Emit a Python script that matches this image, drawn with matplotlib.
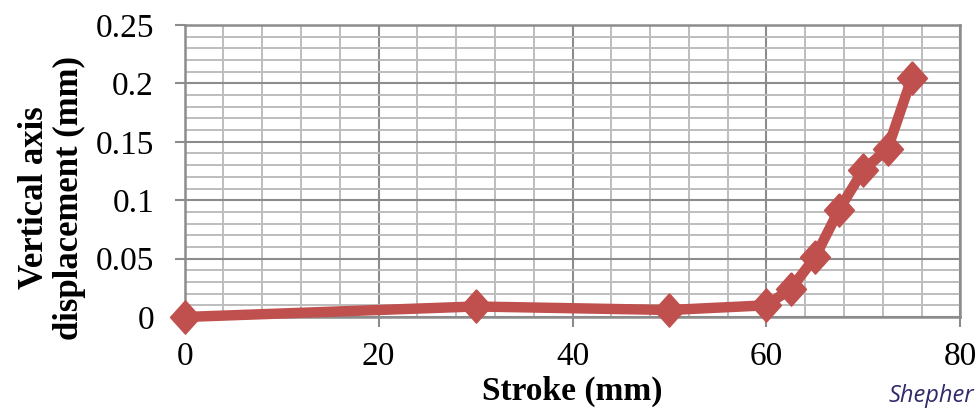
import matplotlib
matplotlib.use("Agg")
import matplotlib.pyplot as plt
from matplotlib.ticker import MultipleLocator

# Stroke (mm) vs vertical axis displacement (mm)
stroke = [0, 30, 50, 60, 62.5, 65, 67.5, 70, 72.5, 75]
displacement = [0.0, 0.009, 0.006, 0.010, 0.024, 0.051, 0.092, 0.126, 0.144, 0.205]

x_ticks = [0, 20, 40, 60, 80]
y_ticks = [0, 0.05, 0.1, 0.15, 0.2, 0.25]
y_tick_labels = ["0", "0.05", "0.1", "0.15", "0.2", "0.25"]

serif = "Liberation Serif"
line_color = "#C0504D"
major_grid = "#8C8C8C"
minor_grid = "#BDBDBD"

fig = plt.figure(figsize=(9.77, 4.12), dpi=100)
ax = fig.add_axes([0.189, 0.2306, 0.794, 0.7088])

ax.set_xlim(0, 80)
ax.set_ylim(0, 0.25)

# grid: majors every 20 / 0.05, minors every 4 / 0.01
ax.xaxis.set_minor_locator(MultipleLocator(4))
ax.yaxis.set_minor_locator(MultipleLocator(0.01))
ax.grid(which="minor", color=minor_grid, linewidth=1.4, zorder=0)
ax.grid(which="major", color=major_grid, linewidth=1.5, zorder=0.5)
ax.set_axisbelow(True)

ax.set_xticks(x_ticks)
ax.set_yticks(y_ticks)
ax.set_yticklabels(y_tick_labels)
ax.tick_params(which="minor", length=0)
ax.tick_params(axis="both", which="major", direction="out", length=7,
               width=1.5, color=major_grid, labelsize=24)
ax.tick_params(axis="y", pad=15)
ax.tick_params(axis="x", pad=11)
for lbl in ax.get_xticklabels() + ax.get_yticklabels():
    lbl.set_fontfamily(serif)

for side in ["left", "bottom", "top", "right"]:
    ax.spines[side].set_color(major_grid)
    ax.spines[side].set_linewidth(1.8)

diamond = [(0, 1), (0.9, 0), (0, -1), (-0.9, 0), (0, 1)]
ax.plot(stroke, displacement, color=line_color, linewidth=7.5,
        marker=diamond, markersize=24, markerfacecolor=line_color,
        markeredgecolor=line_color, solid_joinstyle="round",
        clip_on=False, zorder=5)

ax.set_xlabel("Stroke (mm)", fontfamily=serif, fontweight="bold", fontsize=24)
ax.xaxis.set_label_coords(0.5, -0.2)
fig.text(52 / 977, 1 - 198 / 412, "Vertical axis\ndisplacement (mm)",
         rotation=90, ha="center", va="center", multialignment="center",
         fontfamily=serif, fontweight="bold", fontsize=25, linespacing=1.1)

fig.text(974 / 977, 1 - 396 / 412, "Shepher", ha="right", va="center",
         fontfamily="Open Sans", fontstyle="italic", fontsize=17,
         color="#2F2A6B")

fig.savefig("out.png", dpi=100, facecolor="white")
